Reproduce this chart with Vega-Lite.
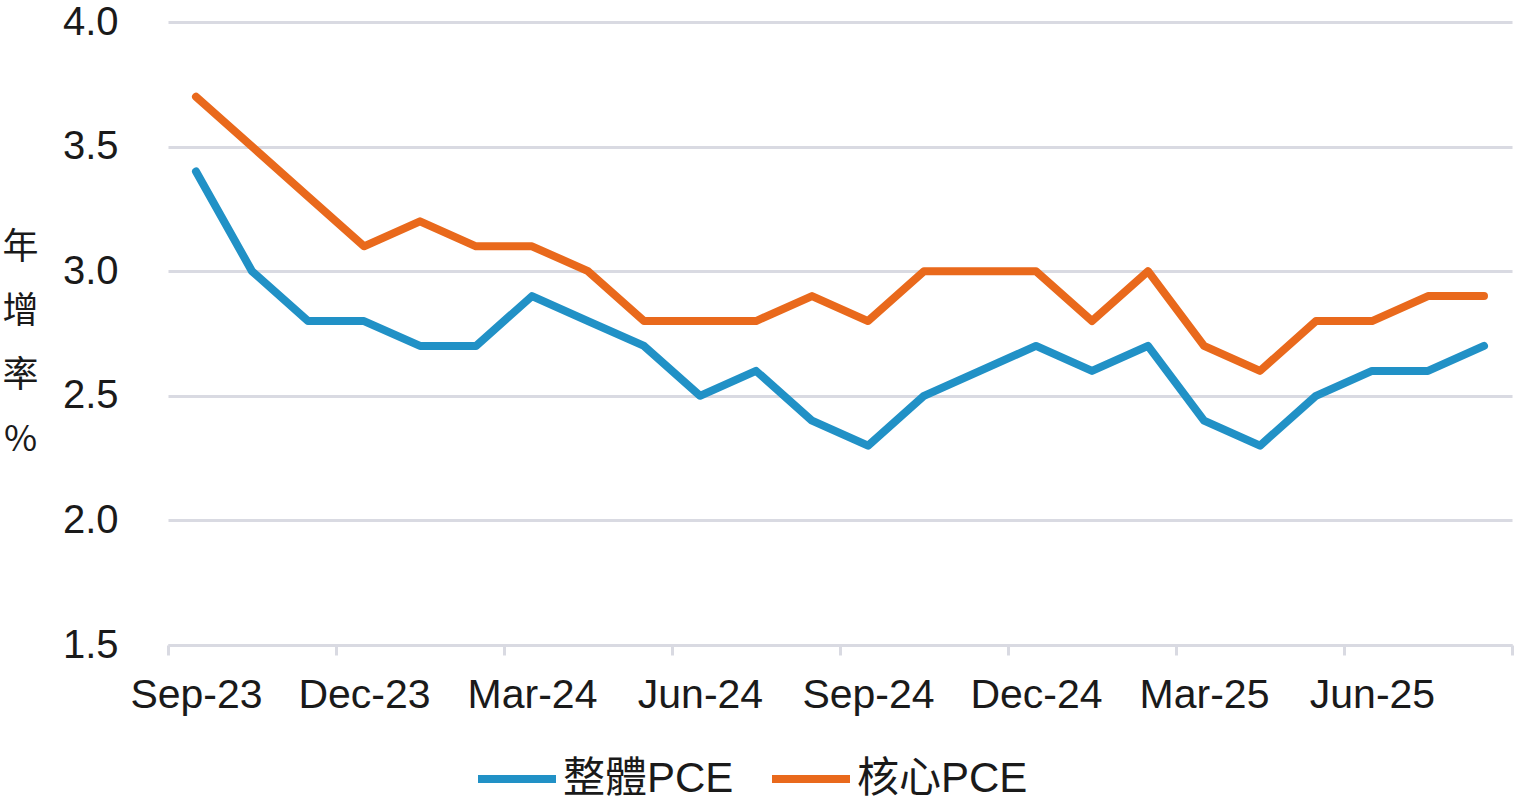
{
  "$schema": "https://vega.github.io/schema/vega-lite/v6.json",
  "autosize": {"type": "none"},
  "width": 1344,
  "height": 623,
  "padding": {"left": 168, "top": 22, "right": 9, "bottom": 156},
  "background": "white",
  "config": {
    "view": {"stroke": null},
    "font": "Liberation Sans, Noto Sans CJK TC",
    "axis": {"labelFont": "Liberation Sans", "labelColor": "#1a1a1a", "labelFontSize": 41}
  },
  "data": {
    "values": [
      {"month": "Sep-23", "i": 0, "series": "整體PCE", "value": 3.4},
      {"month": "Oct-23", "i": 1, "series": "整體PCE", "value": 3.0},
      {"month": "Nov-23", "i": 2, "series": "整體PCE", "value": 2.8},
      {"month": "Dec-23", "i": 3, "series": "整體PCE", "value": 2.8},
      {"month": "Jan-24", "i": 4, "series": "整體PCE", "value": 2.7},
      {"month": "Feb-24", "i": 5, "series": "整體PCE", "value": 2.7},
      {"month": "Mar-24", "i": 6, "series": "整體PCE", "value": 2.9},
      {"month": "Apr-24", "i": 7, "series": "整體PCE", "value": 2.8},
      {"month": "May-24", "i": 8, "series": "整體PCE", "value": 2.7},
      {"month": "Jun-24", "i": 9, "series": "整體PCE", "value": 2.5},
      {"month": "Jul-24", "i": 10, "series": "整體PCE", "value": 2.6},
      {"month": "Aug-24", "i": 11, "series": "整體PCE", "value": 2.4},
      {"month": "Sep-24", "i": 12, "series": "整體PCE", "value": 2.3},
      {"month": "Oct-24", "i": 13, "series": "整體PCE", "value": 2.5},
      {"month": "Nov-24", "i": 14, "series": "整體PCE", "value": 2.6},
      {"month": "Dec-24", "i": 15, "series": "整體PCE", "value": 2.7},
      {"month": "Jan-25", "i": 16, "series": "整體PCE", "value": 2.6},
      {"month": "Feb-25", "i": 17, "series": "整體PCE", "value": 2.7},
      {"month": "Mar-25", "i": 18, "series": "整體PCE", "value": 2.4},
      {"month": "Apr-25", "i": 19, "series": "整體PCE", "value": 2.3},
      {"month": "May-25", "i": 20, "series": "整體PCE", "value": 2.5},
      {"month": "Jun-25", "i": 21, "series": "整體PCE", "value": 2.6},
      {"month": "Jul-25", "i": 22, "series": "整體PCE", "value": 2.6},
      {"month": "Aug-25", "i": 23, "series": "整體PCE", "value": 2.7},
      {"month": "Sep-23", "i": 0, "series": "核心PCE", "value": 3.7},
      {"month": "Oct-23", "i": 1, "series": "核心PCE", "value": 3.5},
      {"month": "Nov-23", "i": 2, "series": "核心PCE", "value": 3.3},
      {"month": "Dec-23", "i": 3, "series": "核心PCE", "value": 3.1},
      {"month": "Jan-24", "i": 4, "series": "核心PCE", "value": 3.2},
      {"month": "Feb-24", "i": 5, "series": "核心PCE", "value": 3.1},
      {"month": "Mar-24", "i": 6, "series": "核心PCE", "value": 3.1},
      {"month": "Apr-24", "i": 7, "series": "核心PCE", "value": 3.0},
      {"month": "May-24", "i": 8, "series": "核心PCE", "value": 2.8},
      {"month": "Jun-24", "i": 9, "series": "核心PCE", "value": 2.8},
      {"month": "Jul-24", "i": 10, "series": "核心PCE", "value": 2.8},
      {"month": "Aug-24", "i": 11, "series": "核心PCE", "value": 2.9},
      {"month": "Sep-24", "i": 12, "series": "核心PCE", "value": 2.8},
      {"month": "Oct-24", "i": 13, "series": "核心PCE", "value": 3.0},
      {"month": "Nov-24", "i": 14, "series": "核心PCE", "value": 3.0},
      {"month": "Dec-24", "i": 15, "series": "核心PCE", "value": 3.0},
      {"month": "Jan-25", "i": 16, "series": "核心PCE", "value": 2.8},
      {"month": "Feb-25", "i": 17, "series": "核心PCE", "value": 3.0},
      {"month": "Mar-25", "i": 18, "series": "核心PCE", "value": 2.7},
      {"month": "Apr-25", "i": 19, "series": "核心PCE", "value": 2.6},
      {"month": "May-25", "i": 20, "series": "核心PCE", "value": 2.8},
      {"month": "Jun-25", "i": 21, "series": "核心PCE", "value": 2.8},
      {"month": "Jul-25", "i": 22, "series": "核心PCE", "value": 2.9},
      {"month": "Aug-25", "i": 23, "series": "核心PCE", "value": 2.9}
    ]
  },
  "mark": {"type": "line", "strokeWidth": 8, "strokeCap": "round", "strokeJoin": "round"},
  "encoding": {
    "x": {
      "field": "i",
      "type": "quantitative",
      "scale": {"domain": [-0.5, 23.5], "nice": false, "zero": false},
      "axis": {
        "title": null,
        "values": [-0.5, 2.5, 5.5, 8.5, 11.5, 14.5, 17.5, 20.5, 23.5],
        "labelExpr": "datum.value > 23 ? '' : ['Sep-23','Dec-23','Mar-24','Jun-24','Sep-24','Dec-24','Mar-25','Jun-25'][round((datum.value + 0.5) / 3)]",
        "labelOffset": 28,
        "labelAlign": "center",
        "labelBaseline": "top",
        "labelPadding": 20,
        "labelFlush": false,
        "labelOverlap": false,
        "grid": false,
        "domainColor": "#d9dae2",
        "domainWidth": 3,
        "tickColor": "#d9dae2",
        "tickWidth": 3,
        "tickSize": 10
      }
    },
    "y": {
      "field": "value",
      "type": "quantitative",
      "scale": {"domain": [1.5, 4.0], "nice": false, "zero": false},
      "axis": {
        "title": ["年", "增", "率", "%"],
        "titleAngle": 0,
        "titleAlign": "center",
        "titleBaseline": "middle",
        "titleFont": "Noto Sans CJK TC",
        "titleFontWeight": "normal",
        "titleFontSize": 36,
        "titleColor": "#1a1a1a",
        "titleLineHeight": 64,
        "titleX": -148,
        "titleY": 225,
        "values": [1.5, 2.0, 2.5, 3.0, 3.5, 4.0],
        "format": ".1f",
        "domain": false,
        "ticks": false,
        "labelFontSize": 40,
        "labelPadding": 50,
        "labelBaseline": "middle",
        "grid": true,
        "gridColor": "#d9dae2",
        "gridWidth": 3
      }
    },
    "color": {
      "field": "series",
      "type": "nominal",
      "sort": ["整體PCE", "核心PCE"],
      "scale": {"domain": ["整體PCE", "核心PCE"], "range": ["#2191c6", "#e9691c"]},
      "legend": {
        "title": null,
        "orient": "none",
        "direction": "horizontal",
        "legendX": 306,
        "legendY": 714,
        "symbolType": "stroke",
        "symbolSize": 6084,
        "symbolStrokeWidth": 8,
        "labelFontSize": 42,
        "labelFont": "Liberation Sans, Noto Sans CJK TC",
        "labelColor": "#1a1a1a",
        "labelOffset": 3,
        "columnPadding": 22,
        "labelLimit": 400
      }
    }
  }
}
